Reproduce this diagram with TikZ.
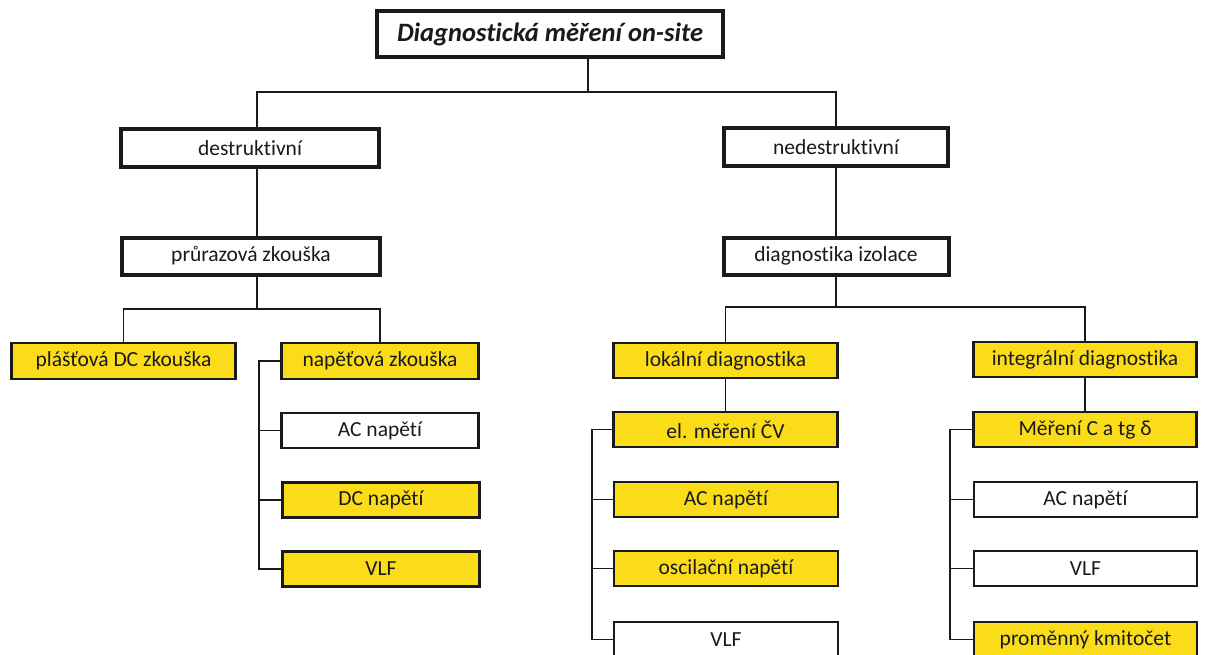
\documentclass[tikz,border=0pt]{standalone}
\usepackage{fontspec}
\setmainfont{Carlito}[Ligatures=NoCommon]
\definecolor{boxyellow}{RGB}{250,220,25}
\definecolor{inkdark}{RGB}{25,25,30}
\begin{document}
\begin{tikzpicture}[x=1pt,y=-1pt,
  base/.style={draw=inkdark,rectangle,inner sep=0pt,text=inkdark,
     font=\fontsize{21.5}{25}\selectfont},
  topbox/.style={base,line width=4pt,fill=white},
  ybox/.style={base,line width=2.4pt,fill=boxyellow,minimum height=35pt},
  wbox/.style={base,line width=2.4pt,fill=white,minimum height=35pt},
  conn/.style={draw=inkdark,line width=1.8pt}]
\useasboundingbox (0,0) rectangle (1207,654);
\fill[white] (0,0) rectangle (1207,654);
\clip (0,0) rectangle (1207,654);

% level 1
\node[topbox,minimum width=346pt,minimum height=46pt,font=\fontsize{26.5}{30}\selectfont\bfseries\itshape] (title) at (550,34) {Diagnostická měření on-site};
% level 2
\node[topbox,minimum width=258pt,minimum height=38pt] (destr) at (250,148) {destruktivní};
\node[topbox,minimum width=224pt,minimum height=38pt] (nedestr) at (836,147) {nedestruktivní};
% level 3
\node[topbox,minimum width=258pt,minimum height=37pt] (pruraz) at (251,256) {průrazová zkouška};
\node[topbox,minimum width=225pt,minimum height=37pt] (diagiz) at (836,256) {diagnostika izolace};
% level 4 left
\node[ybox,minimum width=224pt,minimum height=36pt] (plast) at (123.5,361) {plášťová DC zkouška};
\node[ybox,minimum width=197pt,minimum height=36pt] (napet) at (380,361) {napěťová zkouška};
\node[wbox,minimum width=197pt] (acL) at (380,430.5) {AC napětí};
\node[ybox,minimum width=197pt] (dcL) at (381,500) {DC napětí};
\node[ybox,minimum width=197pt] (vlfL) at (381,569) {VLF};
% level 4 middle
\node[ybox,minimum width=224pt] (lok) at (725.5,360.5) {lokální diagnostika};
\node[ybox,minimum width=224pt] (elm) at (725.5,429.5) {el. měření ČV};
\node[ybox,minimum width=224pt] (acM) at (726,499.5) {AC napětí};
\node[ybox,minimum width=224pt] (osc) at (726,568.5) {oscilační napětí};
\node[wbox,minimum width=224pt] (vlfM) at (726,639.5) {VLF};
% level 4 right
\node[ybox,minimum width=223pt] (integ) at (1085,359.5) {integrální diagnostika};
\node[ybox,minimum width=223pt] (mer) at (1085,429.5) {Měření C a tg δ};
\node[wbox,minimum width=223pt] (acR) at (1085.5,499.5) {AC napětí};
\node[wbox,minimum width=223pt] (vlfR) at (1085.5,568.5) {VLF};
\node[ybox,minimum width=223pt] (prom) at (1085.5,639.5) {proměnný kmitočet};

% junctions
\coordinate (jt) at (588,92);
\coordinate (jp) at (257,309);
\coordinate (jd) at (836,307);
\coordinate (bL) at (259,0);
\coordinate (bM) at (592,0);
\coordinate (bR) at (950,0);

% top connectors
\draw[conn] (title.south -| jt) -- (jt);
\draw[conn] ([xshift=7pt]destr.north) |- (jt) -| (nedestr.north);
\draw[conn] ([xshift=7pt]destr.south) -- ([xshift=6pt]pruraz.north);
\draw[conn] (nedestr.south) -- (diagiz.north);
% left branch
\draw[conn] ([xshift=6pt]pruraz.south) -- (jp);
\draw[conn] (plast.north) |- (jp) -| (napet.north);
\draw[conn] (napet.west) -- (napet.west -| bL) -- (vlfL.west -| bL) -- (vlfL.west);
\draw[conn] (acL.west -| bL) -- (acL.west);
\draw[conn] (dcL.west -| bL) -- (dcL.west);
% right branch
\draw[conn] (diagiz.south) -- (jd);
\draw[conn] (lok.north) |- (jd) -| (integ.north);
\draw[conn] (lok.south) -- (elm.north);
\draw[conn] (integ.south) -- (mer.north);
\draw[conn] (elm.west) -- (elm.west -| bM) -- (vlfM.west -| bM) -- (vlfM.west);
\draw[conn] (acM.west -| bM) -- (acM.west);
\draw[conn] (osc.west -| bM) -- (osc.west);
\draw[conn] (mer.west) -- (mer.west -| bR) -- (prom.west -| bR) -- (prom.west);
\draw[conn] (acR.west -| bR) -- (acR.west);
\draw[conn] (vlfR.west -| bR) -- (vlfR.west);
\end{tikzpicture}
\end{document}
